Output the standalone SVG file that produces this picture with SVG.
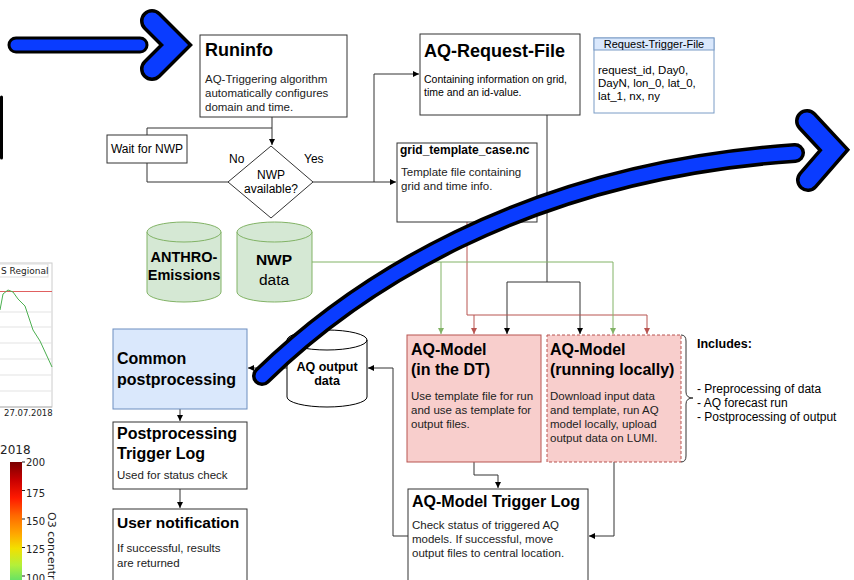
<svg xmlns="http://www.w3.org/2000/svg" width="854" height="580" viewBox="0 0 854 580">
<defs>
<style>
.box{fill:#fff;stroke:#333;stroke-width:1}
.t{font-family:"Liberation Sans",Arial,sans-serif;fill:#000}
.title{font-weight:bold;font-size:18px}
.h16{font-weight:bold;font-size:16px}
.body{font-size:11.5px;fill:#222}
.ln{fill:none;stroke:#333;stroke-width:1}
.red{fill:none;stroke:#b85450;stroke-width:1}
.grn{fill:none;stroke:#82b366;stroke-width:1}
.cyl{fill:#d5e8d4;stroke:#82b366;stroke-width:1}
.dj{font-family:"DejaVu Sans",sans-serif;fill:#222}
.arrK{fill:none;stroke:#000;stroke-linecap:round;stroke-linejoin:miter}
.arrB{fill:none;stroke:#0a3cff;stroke-linecap:round;stroke-linejoin:miter}
</style>
<marker id="mk" markerWidth="6" markerHeight="6" refX="6" refY="3" orient="auto" markerUnits="userSpaceOnUse"><path d="M0,0 L6,3 L0,6 z" fill="#000"/></marker>
<marker id="mr" markerWidth="6" markerHeight="6" refX="6" refY="3" orient="auto" markerUnits="userSpaceOnUse"><path d="M0,0 L6,3 L0,6 z" fill="#b85450"/></marker>
<marker id="mg" markerWidth="6" markerHeight="6" refX="6" refY="3" orient="auto" markerUnits="userSpaceOnUse"><path d="M0,0 L6,3 L0,6 z" fill="#82b366"/></marker>
<linearGradient id="cbar" x1="0" y1="0" x2="0" y2="1">
<stop offset="0" stop-color="#7a0000"/>
<stop offset="0.15" stop-color="#c80000"/>
<stop offset="0.3" stop-color="#ff1a00"/>
<stop offset="0.45" stop-color="#ff6a00"/>
<stop offset="0.6" stop-color="#ffa800"/>
<stop offset="0.72" stop-color="#f2e000"/>
<stop offset="0.86" stop-color="#b4f03a"/>
<stop offset="1" stop-color="#5ee06a"/>
</linearGradient>
</defs>
<rect width="854" height="580" fill="#fff"/>

<!-- background chart fragment -->
<g id="chart">
<rect x="-5" y="263" width="57" height="144" fill="#fff" stroke="#ccc"/>
<rect x="-5" y="264" width="53" height="13" fill="#fff" stroke="#ddd"/>
<text x="1" y="274" class="dj" font-size="9">S Regional</text>
<g stroke="#e3e3e3" stroke-width="1">
<line x1="0" y1="312" x2="52" y2="312"/>
<line x1="0" y1="327" x2="52" y2="327"/>
<line x1="0" y1="343" x2="52" y2="343"/>
<line x1="0" y1="359" x2="52" y2="359"/>
<line x1="0" y1="375" x2="52" y2="375"/>
<line x1="0" y1="391" x2="52" y2="391"/>
</g>
<line x1="0" y1="291.5" x2="52" y2="291.5" stroke="#e06060" stroke-width="1"/>
<path d="M0,310 L3,294 L8,290 L13,292 L18,299 L25,306 L33,330 L40,341 L52,367" fill="none" stroke="#4caf50" stroke-width="1"/>
<line x1="0" y1="407" x2="52" y2="407" stroke="#bbb"/>
<text x="4" y="416" class="dj" font-size="8.5">27.07.2018</text>
</g>

<g id="colorbar">
<text x="0" y="454" class="dj" font-size="12">2018</text>
<rect x="10" y="462" width="12" height="120" fill="url(#cbar)"/>
<g stroke="#222" stroke-width="1">
<line x1="22" y1="462" x2="25" y2="462"/>
<line x1="22" y1="490.5" x2="25" y2="490.5"/>
<line x1="22" y1="519" x2="25" y2="519"/>
<line x1="22" y1="547.5" x2="25" y2="547.5"/>
<line x1="22" y1="576" x2="25" y2="576"/>
</g>
<g class="dj" font-size="10">
<text x="26" y="466">200</text>
<text x="26" y="497">175</text>
<text x="26" y="525">150</text>
<text x="26" y="553">125</text>
<text x="26" y="582">100</text>
</g>
<text transform="translate(48,512) rotate(90)" class="dj" font-size="11">O3 concentra</text>
</g>

<!-- connectors -->
<g id="connectors">
<path class="ln" d="M272,117 L272,145" marker-end="url(#mk)"/>
<path class="ln" d="M228,182 L147,182 L147,163"/>
<path class="ln" d="M147,135 L147,128 L272,128"/>
<path class="ln" d="M313,182 L396,182" marker-end="url(#mk)"/>
<path class="ln" d="M374,182 L374,74 L419,74" marker-end="url(#mk)"/>
<path class="ln" d="M547,115 L547,282"/>
<path class="ln" d="M507,282 L580,282"/>
<path class="ln" d="M507,282 L507,334" marker-end="url(#mk)"/>
<path class="ln" d="M580,282 L580,334" marker-end="url(#mk)"/>
<path class="red" d="M467,222 L467,315 L647,315 L647,334" marker-end="url(#mr)"/>
<path class="red" d="M474,315 L474,334" marker-end="url(#mr)"/>
<path class="grn" d="M312,262 L613,262 L613,334" marker-end="url(#mg)"/>
<path class="grn" d="M441,262 L441,334" marker-end="url(#mg)"/>
<path class="ln" d="M474,462 L474,475 L498,475 L498,488" marker-end="url(#mk)"/>
<path class="ln" d="M614,462 L614,536 L589,536" marker-end="url(#mk)"/>
<path class="ln" d="M408,536 L393,536 L393,368 L368,368" marker-end="url(#mk)"/>
<path class="ln" d="M287,368 L248,368" marker-end="url(#mk)"/>
<path class="ln" d="M180,409 L180,421" marker-end="url(#mk)"/>
<path class="ln" d="M180,489 L180,508" marker-end="url(#mk)"/>
</g>

<g id="runinfo">
<rect class="box" x="200" y="35" width="147" height="82"/>
<text x="205" y="56" class="t title">Runinfo</text>
<text x="205" y="83" class="t body">AQ-Triggering algorithm</text>
<text x="205" y="97" class="t body">automatically configures</text>
<text x="205" y="111" class="t body">domain and time.</text>
</g>

<g id="aq-request-file">
<rect class="box" x="420" y="34" width="160" height="81"/>
<text x="424" y="57" class="t title">AQ-Request-File</text>
<text x="424" y="83" class="t" font-size="10.5" fill="#222">Containing information on grid,</text>
<text x="424" y="96" class="t" font-size="10.5" fill="#222">time and an id-value.</text>
</g>

<g id="request-trigger-file">
<rect x="594" y="38" width="120" height="75" fill="#fff" stroke="#7a9cc6"/>
<rect x="594" y="38" width="120" height="12" fill="#dae8fc" stroke="#7a9cc6"/>
<text x="654" y="48" class="t" font-size="11" text-anchor="middle" fill="#222">Request-Trigger-File</text>
<text x="598" y="74" class="t" font-size="11.5" fill="#222">request_id, Day0,</text>
<text x="598" y="87" class="t" font-size="11.5" fill="#222">DayN, lon_0, lat_0,</text>
<text x="598" y="100" class="t" font-size="11.5" fill="#222">lat_1, nx, ny</text>
</g>

<g id="wait-for-nwp">
<rect class="box" x="107" y="135" width="80" height="28"/>
<text x="147" y="153" class="t" font-size="12" text-anchor="middle" fill="#222">Wait for NWP</text>
</g>

<g id="nwp-available">
<path d="M271,146 L313,182 L271,218 L228,182 z" fill="#fff" stroke="#333"/>
<text x="271" y="179" class="t" font-size="12" text-anchor="middle" fill="#222">NWP</text>
<text x="271" y="193" class="t" font-size="12" text-anchor="middle" fill="#222">available?</text>
<text x="229" y="163" class="t" font-size="12" fill="#222">No</text>
<text x="304" y="163" class="t" font-size="12" fill="#222">Yes</text>
</g>

<g id="grid-template">
<rect class="box" x="397" y="143" width="140" height="79"/>
<text x="400" y="154" class="t" font-size="12" font-weight="bold">grid_template_case.nc</text>
<text x="401" y="176" class="t body">Template file containing</text>
<text x="401" y="190" class="t body">grid and time info.</text>
</g>

<g id="anthro-emissions">
<path class="cyl" d="M147,232 A37,10 0 0 1 221,232 L221,292 A37,10 0 0 1 147,292 z"/>
<path class="cyl" d="M147,232 A37,10 0 0 0 221,232" fill="none"/>
<text x="184" y="262" class="t" font-size="14.5" font-weight="bold" text-anchor="middle">ANTHRO-</text>
<text x="184" y="280" class="t" font-size="14.5" font-weight="bold" text-anchor="middle">Emissions</text>
</g>

<g id="nwp-data">
<path class="cyl" d="M237,232 A37.5,10 0 0 1 312,232 L312,292 A37.5,10 0 0 1 237,292 z"/>
<path class="cyl" d="M237,232 A37.5,10 0 0 0 312,232" fill="none"/>
<text x="274" y="265" class="t" font-size="15.5" font-weight="bold" text-anchor="middle">NWP</text>
<text x="274" y="285" class="t" font-size="15.5" text-anchor="middle" fill="#222">data</text>
</g>

<g id="common-postprocessing">
<rect x="113" y="329" width="134" height="80" fill="#dae8fc" stroke="#6c8ebf"/>
<text x="117" y="364" class="t h16">Common</text>
<text x="117" y="385" class="t h16">postprocessing</text>
</g>

<g id="aq-output-data">
<path d="M287,340 A40,10 0 0 1 367,340 L367,397 A40,10 0 0 1 287,397 z" fill="#fff" stroke="#000"/>
<path d="M287,340 A40,10 0 0 0 367,340" fill="none" stroke="#000"/>
<text x="327" y="371" class="t" font-size="12.5" font-weight="bold" text-anchor="middle">AQ output</text>
<text x="327" y="385" class="t" font-size="12.5" font-weight="bold" text-anchor="middle">data</text>
</g>

<g id="aq-model-dt">
<rect x="407" y="335" width="134" height="127" fill="#f8cecc" stroke="#b85450"/>
<text x="411" y="355" class="t h16">AQ-Model</text>
<text x="411" y="375" class="t h16">(in the DT)</text>
<text x="411" y="400" class="t body">Use template file for run</text>
<text x="411" y="414" class="t body">and use as template for</text>
<text x="411" y="428" class="t body">output files.</text>
</g>

<g id="aq-model-local">
<rect x="547" y="335" width="134" height="127" fill="#f8cecc" stroke="#b85450" stroke-dasharray="3,2"/>
<text x="550" y="355" class="t h16">AQ-Model</text>
<text x="550" y="375" class="t h16">(running locally)</text>
<text x="550" y="400" class="t body">Download input data</text>
<text x="550" y="414" class="t body">and template, run AQ</text>
<text x="550" y="428" class="t body">model locally, upload</text>
<text x="550" y="442" class="t body">output data on LUMI.</text>
</g>

<g id="includes">
<path d="M681,335 Q686,335 686,341 L686,392 Q686,398 693,398 Q686,398 686,404 L686,456 Q686,462 681,462" fill="none" stroke="#333"/>
<text x="697" y="348" class="t" font-size="12.5" font-weight="bold">Includes:</text>
<text x="697" y="393" class="t" font-size="12" fill="#222">- Preprocessing of data</text>
<text x="697" y="407" class="t" font-size="12" fill="#222">- AQ forecast run</text>
<text x="697" y="421" class="t" font-size="12" fill="#222">- Postprocessing of output</text>
</g>

<g id="postprocessing-trigger-log">
<rect class="box" x="113" y="422" width="134" height="67"/>
<text x="117" y="439" class="t h16">Postprocessing</text>
<text x="117" y="459" class="t h16">Trigger Log</text>
<text x="117" y="479" class="t body">Used for status check</text>
</g>

<g id="user-notification">
<rect class="box" x="113" y="509" width="134" height="80"/>
<text x="117" y="528" class="t" font-size="15.5" font-weight="bold">User notification</text>
<text x="117" y="552" class="t body">If successful, results</text>
<text x="117" y="567" class="t body">are returned</text>
</g>

<g id="aq-model-trigger-log">
<rect class="box" x="408" y="489" width="180" height="100"/>
<text x="412" y="507" class="t h16">AQ-Model Trigger Log</text>
<text x="412" y="529" class="t body">Check status of triggered AQ</text>
<text x="412" y="543" class="t body">models. If successful, move</text>
<text x="412" y="557" class="t body">output files to central location.</text>
</g>

<!-- overlay blue arrows -->
<g id="arrow-left">
<line x1="1.5" y1="97" x2="1.5" y2="158" stroke="#000" stroke-width="3" stroke-linecap="round"/>
<path class="arrK" d="M16,45 L140,45" stroke-width="17"/>
<path class="arrB" d="M16,45 L140,45" stroke-width="11"/>
<path class="arrK" d="M152,21 L176,45 L152,69" stroke-width="24"/>
<path class="arrB" d="M152,21 L176,45 L152,69" stroke-width="17"/>
</g>

<g id="arrow-curved">
<path class="arrK" d="M262,376 C350,290 520,172 795,153" stroke-width="20"/>
<path class="arrB" d="M262,376 C350,290 520,172 795,153" stroke-width="13"/>
<path class="arrK" d="M807,121 L834,150 L808,180" stroke-width="24"/>
<path class="arrB" d="M807,121 L834,150 L808,180" stroke-width="17"/>
</g>
</svg>
